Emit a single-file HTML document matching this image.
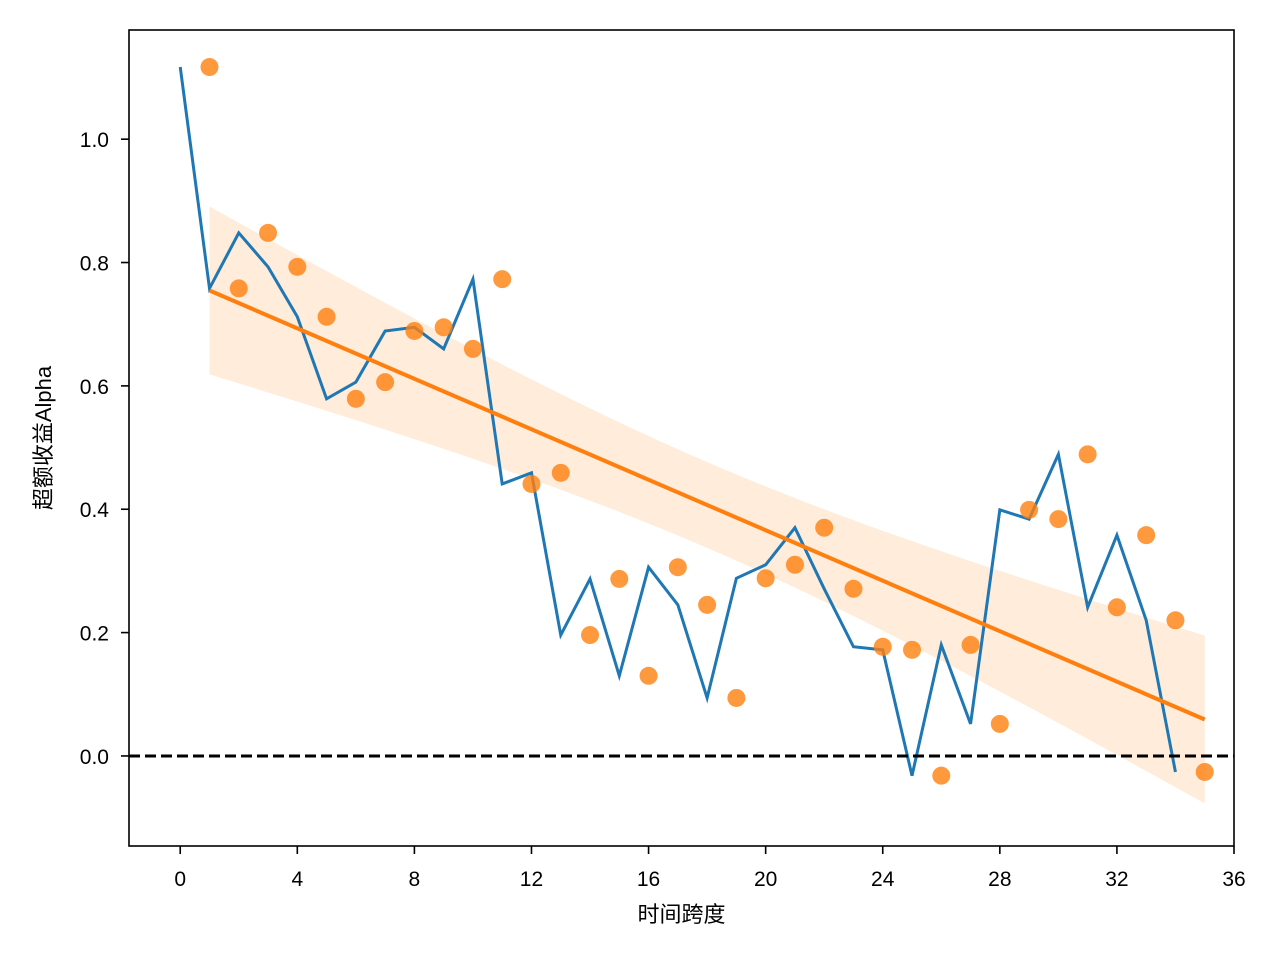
<!DOCTYPE html>
<html><head><meta charset="utf-8"><style>
body{margin:0;background:#fff;}
svg text{font-family:"Liberation Sans","Noto Sans CJK SC",sans-serif;fill:#000;}
</style></head><body>
<svg id="chart" width="1280" height="960" xmlns="http://www.w3.org/2000/svg"></svg>
<script>
const xTicks=[0,4,8,12,16,20,24,28,32,36];
const yTicks=[0.0,0.2,0.4,0.6,0.8,1.0];
const lineX=[0,1,2,3,4,5,6,7,8,9,10,11,12,13,14,15,16,17,18,19,20,21,22,23,24,25,26,27,28,29,30,31,32,33,34];
const lineY=[1.117,0.758,0.848,0.793,0.712,0.579,0.606,0.689,0.695,0.660,0.773,0.441,0.459,0.196,0.287,0.130,0.306,0.245,0.094,0.288,0.310,0.370,0.271,0.177,0.172,-0.032,0.180,0.052,0.399,0.384,0.489,0.241,0.358,0.220,-0.026];
const dotX=[1,2,3,4,5,6,7,8,9,10,11,12,13,14,15,16,17,18,19,20,21,22,23,24,25,26,27,28,29,30,31,32,33,34,35];
const dotY=[1.117,0.758,0.848,0.793,0.712,0.579,0.606,0.689,0.695,0.660,0.773,0.441,0.459,0.196,0.287,0.130,0.306,0.245,0.094,0.288,0.310,0.370,0.271,0.177,0.172,-0.032,0.180,0.052,0.399,0.384,0.489,0.241,0.358,0.220,-0.026];
const L=129,R=1234,T=30,B=846;
const xMin=-1.75,xMax=36,yMin=-0.146,yMax=1.177;
const sx=v=>L+(v-xMin)/(xMax-xMin)*(R-L);
const sy=v=>B-(v-yMin)/(yMax-yMin)*(B-T);
const svg=document.getElementById('chart');
const NS='http://www.w3.org/2000/svg';
function mk(tag,attrs,parent){const e=document.createElementNS(NS,tag);for(const k in attrs)e.setAttribute(k,attrs[k]);(parent||svg).appendChild(e);return e;}
const n=dotX.length;const mx=dotX.reduce((a,b)=>a+b)/n,my=dotY.reduce((a,b)=>a+b)/n;
let sxx=0,sxy=0;for(let i=0;i<n;i++){sxx+=(dotX[i]-mx)**2;sxy+=(dotX[i]-mx)*(dotY[i]-my);}
const slope=sxy/sxx,icp=my-slope*mx;
let sse=0;for(let i=0;i<n;i++)sse+=(dotY[i]-icp-slope*dotX[i])**2;
const s=Math.sqrt(sse/(n-2));
const x0=dotX[0],x1=dotX[n-1];
let up=[],lo=[];
for(let k=0;k<=50;k++){const x=x0+(x1-x0)*k/50;const f=icp+slope*x;const h=2.3*s*Math.sqrt(1/n+(x-mx)**2/sxx);up.push(sx(x)+','+sy(f+h));lo.unshift(sx(x)+','+sy(f-h));}
const band=mk('polygon',{points:up.concat(lo).join(' '),fill:'#ff7f0e','fill-opacity':0.15});


const bl=mk('polyline',{points:lineX.map((x,i)=>sx(x)+','+sy(lineY[i])).join(' '),fill:'none',stroke:'#1f77b4','stroke-width':3});


dotX.forEach((x,i)=>{const c=mk('circle',{cx:sx(x),cy:sy(dotY[i]),r:9,fill:'#ff7f0e','fill-opacity':0.8});

});
const rl=mk('line',{x1:sx(x0),y1:sy(icp+slope*x0),x2:sx(x1),y2:sy(icp+slope*x1),stroke:'#ff7f0e','stroke-width':4});


const zl=mk('line',{x1:L,x2:R,y1:sy(0),y2:sy(0),stroke:'#000','stroke-width':3,'stroke-dasharray':'11,5'});


const fr=mk('rect',{x:L,y:T,width:R-L,height:B-T,fill:'none',stroke:'#000','stroke-width':1.6});


xTicks.forEach(v=>{mk('line',{x1:sx(v),x2:sx(v),y1:B,y2:B+8,stroke:'#000','stroke-width':1.6});
const t=mk('text',{x:sx(v),y:B+40,'text-anchor':'middle','font-size':21});t.textContent=v;

});
yTicks.forEach(v=>{mk('line',{x1:L-8,x2:L,y1:sy(v),y2:sy(v),stroke:'#000','stroke-width':1.6});
const t=mk('text',{x:L-20,y:sy(v)+8,'text-anchor':'end','font-size':21});t.textContent=v.toFixed(1);

});
const xt=mk('text',{x:(L+R)/2,y:922,'text-anchor':'middle','font-size':22});xt.textContent='时间跨度';


const yt=mk('text',{x:0,y:0,'text-anchor':'middle','font-size':22,transform:'translate(51,438) rotate(-90)'});yt.textContent='超额收益Alpha';


</script>
</body></html>
